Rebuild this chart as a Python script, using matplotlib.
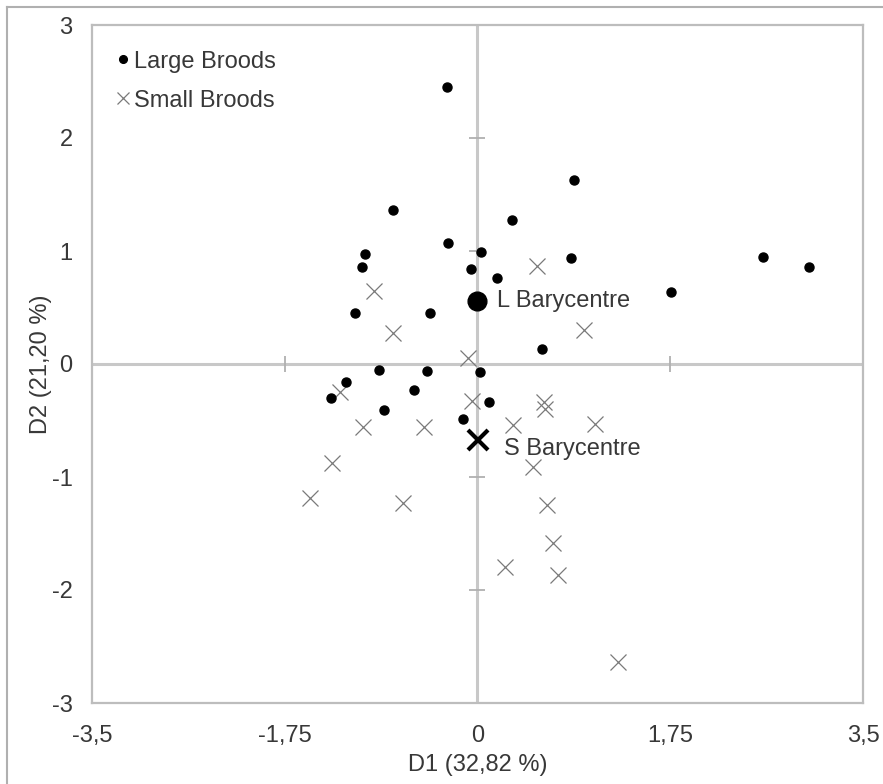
#!/usr/bin/env python3

import numpy as np
from matplotlib.lines import Line2D
from matplotlib.pyplot import figure, rcParams, savefig, close

# Large broods (dots) and small broods (crosses): D1, D2 scores
large_d1 = [-0.28, -0.77, -0.27, -1.02, -1.05, -1.11, -0.43, -0.89, -0.46,
            -1.19, -0.58, -1.33, -0.85, 0.88, 0.31, 0.03, -0.06, 0.18, 0.85,
            2.59, 3.01, 1.76, 0.59, 0.02, 0.10, -0.13]
large_d2 = [2.45, 1.36, 1.07, 0.975, 0.86, 0.45, 0.45, -0.055, -0.066,
            -0.16, -0.23, -0.30, -0.41, 1.63, 1.27, 0.995, 0.84, 0.76, 0.94,
            0.95, 0.86, 0.64, 0.13, -0.07, -0.34, -0.49]
small_d1 = [-0.94, -0.77, -1.25, -1.04, -0.49, -1.32, -1.52, -0.68, 0.54,
            0.97, -0.09, -0.05, 0.60, 0.61, 0.32, 1.07, 0.50, 0.63, 0.69,
            0.25, 0.73, 1.28]
small_d2 = [0.65, 0.27, -0.25, -0.56, -0.56, -0.88, -1.19, -1.23, 0.865,
            0.305, 0.05, -0.33, -0.34, -0.40, -0.54, -0.53, -0.91, -1.25,
            -1.58, -1.80, -1.87, -2.64]

xticks = [-3.5, -1.75, 0, 1.75, 3.5]
xticklabels = ["-3,5", "-1,75", "0", "1,75", "3,5"]
yticks = [-3, -2, -1, 0, 1, 2, 3]
xlabel = "D1 (32,82 %)"
ylabel = "D2 (21,20 %)"

rcParams["font.family"] = ["Liberation Sans", "DejaVu Sans"]
rcParams["axes.unicode_minus"] = False
TXT = "#383838"
GRID = "#c8c8c8"
FS = 17


def main():
    fig = figure(figsize=(8.83, 7.84), dpi=100)
    ax = fig.add_axes([92 / 883, 81 / 784, 771 / 883, 678 / 784])

    ax.set_xlim(-3.5, 3.5)
    ax.set_ylim(-3, 3)

    # centre lines with small cross ticks
    ax.axhline(0, color=GRID, lw=2.2, zorder=0)
    ax.axvline(0, color=GRID, lw=2.2, zorder=0)
    inner_x = [t for t in xticks if t not in (0, xticks[0], xticks[-1])]
    inner_y = [t for t in yticks if t not in (0, yticks[0], yticks[-1])]
    ax.plot(inner_x, np.zeros(len(inner_x)), ls="none", marker="|",
            ms=11.5, mew=1.3, color="#b0b0b0", zorder=0)
    ax.plot(np.zeros(len(inner_y)), inner_y, ls="none", marker="_",
            ms=11.5, mew=1.3, color="#b0b0b0", zorder=0)

    ax.plot(large_d1, large_d2, ls="none", marker="o", ms=6.5,
            color="black", label="Large Broods", zorder=3)
    ax.plot(small_d1, small_d2, ls="none", marker="x", ms=11, mew=0.9,
            color="#7a7a7a", label="Small Broods", zorder=2)

    # barycentres
    lx, ly = np.mean(large_d1), np.mean(large_d2)
    sx, sy = np.mean(small_d1), np.mean(small_d2)
    ax.plot([lx], [ly], ls="none", marker="o", ms=13.5, color="black",
            zorder=4)
    ax.plot([sx], [sy], ls="none", marker="x", ms=15, mew=3,
            color="black", zorder=4)
    ax.annotate("L Barycentre", (lx, ly), xytext=(14, 0),
                textcoords="offset points", va="center", ha="left",
                fontsize=FS, color=TXT)
    ax.annotate("S Barycentre", (sx, sy), xytext=(19, -6.5),
                textcoords="offset points", va="center", ha="left",
                fontsize=FS, color=TXT)

    ax.set_xticks(xticks)
    ax.set_xticklabels(xticklabels)
    ax.set_yticks(yticks)
    ax.tick_params(length=0, labelsize=FS, labelcolor=TXT)
    ax.tick_params(axis="x", pad=16)
    ax.tick_params(axis="y", pad=14)
    ax.set_xlabel(xlabel, fontsize=FS, color=TXT, labelpad=5)
    ax.set_ylabel(ylabel, fontsize=FS, color=TXT, labelpad=0)
    for s in ax.spines.values():
        s.set_color("#bdbdbd")
        s.set_linewidth(1.6)

    leg = ax.legend(loc="upper left", bbox_to_anchor=(0.006, 0.99),
                    frameon=False, fontsize=FS, handlelength=0.6,
                    handletextpad=0.2, labelspacing=0.72, borderpad=0.3,
                    markerscale=0.85)
    for t in leg.get_texts():
        t.set_color(TXT)

    # outer frame (top and left edges visible)
    fig.add_artist(Line2D([7 / 883, 1], [1 - 7 / 784, 1 - 7 / 784],
                          transform=fig.transFigure, color="#b0b0b0", lw=1.5))
    fig.add_artist(Line2D([7 / 883, 7 / 883], [0, 1 - 7 / 784],
                          transform=fig.transFigure, color="#b0b0b0", lw=1.5))

    savefig("out.png", dpi=100)
    close()


if __name__ == "__main__":
    main()
